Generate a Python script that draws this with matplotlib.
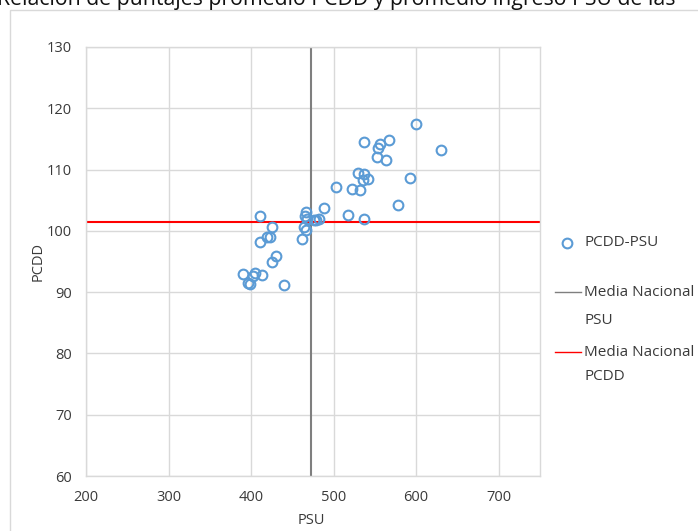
import matplotlib
matplotlib.use("Agg")
import matplotlib.pyplot as plt
from matplotlib.lines import Line2D
from matplotlib.patches import Rectangle

psu = [600, 630, 537, 567, 556, 554, 553, 563, 593, 529, 537, 536, 542, 502.5,
       522, 531.6, 577.5, 488.8, 517.4, 537, 410.2, 466.2, 465.9, 467.8, 476.3,
       482.3, 479.2, 425.1, 463.8, 466.2, 419, 423, 411, 461.4, 430.3, 425.1,
       390.8, 404.9, 402.4, 413.3, 395.7, 398.4, 440.4]
pcdd = [117.5, 113.2, 114.5, 114.8, 114.2, 113.6, 112.0, 111.6, 108.6, 109.5,
        109.3, 108.3, 108.4, 107.1, 106.8, 106.7, 104.2, 103.8, 102.6, 102.0,
        102.5, 103.1, 102.5, 101.9, 101.8, 102.0, 101.8, 100.6, 100.7, 100.1,
        99.05, 99.05, 98.2, 98.7, 95.9, 94.9, 93.0, 93.2, 92.6, 92.8, 91.5,
        91.4, 91.1]
media_psu = 472.4
media_pcdd = 101.45
x_ticks = [200, 300, 400, 500, 600, 700]
y_ticks = [60, 70, 80, 90, 100, 110, 120, 130]
title = "Relación de puntajes promedio PCDD y promedio ingreso PSU de las"

plt.rcParams['font.family'] = ['Open Sans', 'DejaVu Sans']
W, H = 698, 531
fig = plt.figure(figsize=(W/100, H/100), dpi=100)
ax = fig.add_axes([86/W, 1-476/H, (540-86)/W, (476-47)/H])

grid_c = '#D9D9D9'
txt_c = '#3A3A3A'
ax.set_xlim(200, 750)
ax.set_ylim(60, 130)
ax.set_xticks(x_ticks)
ax.set_yticks(y_ticks)
ax.grid(True, color=grid_c, lw=1)
ax.set_axisbelow(True)
for s in ax.spines.values():
    s.set_color(grid_c)
    s.set_linewidth(1)
ax.tick_params(length=0, labelsize=10.5, colors=txt_c)
ax.tick_params(axis='x', pad=10)
ax.tick_params(axis='y', pad=10)
ax.set_xlabel('PSU', fontsize=10.5, color=txt_c)
ax.set_ylabel('PCDD', fontsize=10.5, color=txt_c)
ax.xaxis.set_label_coords((311-86)/454, (476-521)/429)
ax.yaxis.set_label_coords((38-86)/454, 0.5)
ax.xaxis.label.set_va('center')
ax.yaxis.label.set_va('center')

blue = '#5B9BD5'
ax.plot(psu, pcdd, 'o', ms=7, mfc='none', mec=blue, mew=1.5, zorder=3)
ax.axvline(media_psu, color='#7F7F7F', lw=1.5, zorder=2)
ax.axhline(media_pcdd, color='#FF0000', lw=1.5, zorder=2)

# outer chart frame
fig.patches.append(Rectangle((10/W, -0.1), 1.2, 1 - 10/H + 0.1,
                             transform=fig.transFigure, fill=False,
                             ec='#D9D9D9', lw=1))

fig.text(-3/W, 1 - 5/H, title, fontsize=15.3, color='#111111',
         ha='left', va='baseline')

# legend
fs = 11
fig.add_artist(Line2D([567/W], [1-243/H], marker='o', ms=7, mfc='none',
                      mec=blue, mew=1.5, transform=fig.transFigure))
fig.text(584/W, 1-243/H, 'PCDD-PSU', fontsize=fs, color=txt_c,
         ha='left', va='center')
fig.add_artist(Line2D([555/W, 581/W], [1-292/H, 1-292/H], color='#7F7F7F',
                      lw=1, transform=fig.transFigure))
fig.text(584/W, 1-292/H, 'Media Nacional', fontsize=fs, color=txt_c,
         ha='left', va='center')
fig.text(584/W, 1-321/H, 'PSU', fontsize=fs, color=txt_c,
         ha='left', va='center')
fig.add_artist(Line2D([555/W, 581/W], [1-352/H, 1-352/H], color='#FF0000',
                      lw=1, transform=fig.transFigure))
fig.text(584/W, 1-352/H, 'Media Nacional', fontsize=fs, color=txt_c,
         ha='left', va='center')
fig.text(584/W, 1-377/H, 'PCDD', fontsize=fs, color=txt_c,
         ha='left', va='center')

fig.savefig('out.png', dpi=100)
